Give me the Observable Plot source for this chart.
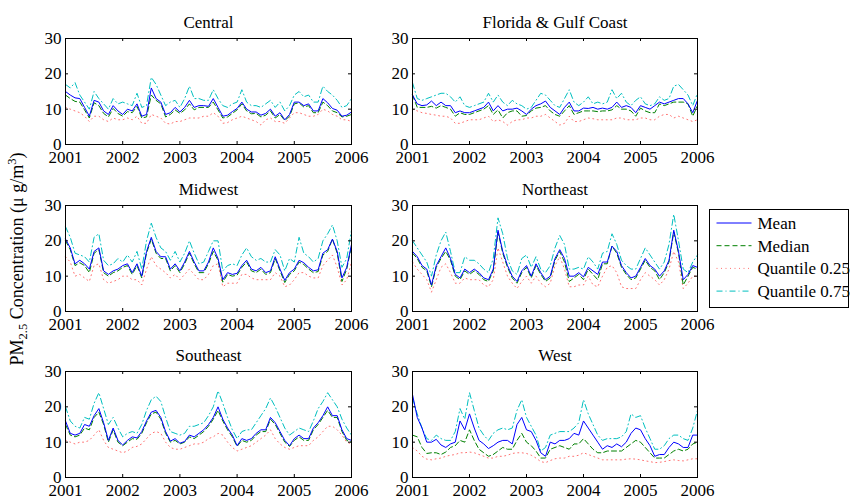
<!DOCTYPE html>
<html>
<head>
<meta charset="utf-8">
<script src="https://cdn.jsdelivr.net/npm/d3@7"></script>
<script src="https://cdn.jsdelivr.net/npm/@observablehq/plot@0.6"></script>
<style>
  body { margin: 0; background: #fff; }
  #chart { position: relative; width: 852px; height: 498px; background: #fff; overflow: hidden; }
  #chart > svg { position: absolute; }
</style>
</head>
<body>
<div id="chart"></div>
<script>
// Monthly PM2.5 summaries by region, Jan 2001 - Jan 2006 (µg/m³)
const months = d3.range(61).map(i => 2001 + i / 12);
const yearTicks = [2001, 2002, 2003, 2004, 2005, 2006];
const concTicks = [0, 10, 20, 30];
const seriesNames = ["Mean", "Median", "Quantile 0.25", "Quantile 0.75"];
const regionNames = ["Central", "Florida & Gulf Coast", "Midwest", "Northeast", "Southeast", "West"];

const centralMean = [15,14,13.2,13,10.5,8,12.5,12,9.5,8.5, 11,9.5,8.5,10,9.5,11.5,8,8.5,16,13, 12,8.5,9,10.5,9.2,10.5,12.5,10.5,11,11, 10.8,13,10.5,8,8.3,9.3,10.2,12,10,9.2, 9.2,8.3,8.8,10,8,9,7,8.5,12,12, 11,11.5,9.5,9.5,13,11.8,10.2,9.7,8,8.3,9.2];
const centralMedian = [14,13,12.2,12,9.8,7.5,11.8,11,8.8,7.8, 10.2,8.8,8,9.3,9,10.8,7.5,7.8,14,12.5, 11.5,7.8,8.5,9.8,8.8,9.8,11.5,9.8,10.5,10.5, 10.5,12,9.8,7.5,7.8,8.8,9.8,11.5,9.5,8.7, 8.8,7.8,8.3,9.5,7.5,8.5,6.8,8,11.5,11.8, 10.6,11,9,9,12,11,9.5,9,7.8,8,8.5];
const centralQ25 = [10.5,10,9.5,9,8,6.5,8,8,7,6.5, 7.5,7,7,7.5,7,8,6,6,8.5,8, 7.5,6,5.8,6.5,6.5,7,7.5,7.5,7.5,8, 8,9,8,6,6.2,7,7.5,8,7.5,7, 6.5,5.5,7,7.5,6.5,6.5,6,7.5,9,9, 8.5,8,8,8.5,10,9.5,8.5,8,7,7,6.5];
const centralQ75 = [17,16,17.5,14,12,10,15,13,11.5,10, 13,11.5,12,11.5,11,14.5,10.5,11,19,17, 14,11,12,12.5,10.5,13,16.5,13,13,12.5, 12.5,15.5,13,11,10.5,11.5,12,15.5,12,11, 11,10.5,11.5,12.5,10.5,12,9.5,11,14,15, 13.5,14,12,12,16.5,15,14,12.5,10.5,11,13];

const floridaMean = [14,11.5,11,11.2,12.3,11,12,11,11,9, 9.5,9,9,9.5,10,10.5,12,9.5,11,9.5, 10,10,10.3,9.5,8.5,10,11,11.5,12.3,10.5, 9.5,8.5,10.5,12,9.5,9.5,10.3,10.2,10.5,10, 10.3,10,10.5,12,10.5,11,10.5,9,11,10.5, 10,11,12,11.5,12,12.5,13,13,11.5,9,12.5];
const floridaMedian = [14,10.5,10.5,10.5,10.8,10.3,11,10.5,10,8, 9,8.5,8.5,9,9.5,10,11,8.5,9.8,7.5, 9,9.5,9.5,8,8.2,9.5,10.3,10.5,11,9.5, 8.5,8,9.5,11,8.5,9,9.5,9.5,9.5,9.3, 9.5,9.5,9.8,11,10,10,9.5,8,10.3,9.5, 9,9,11.5,11,11.5,12,12,12,11.5,8,11];
const floridaQ25 = [10,9.5,9,8.8,8.5,8.3,8,8,7.5,6, 6,6.5,7,7,7,7.5,8,6.5,7,6.5, 5.5,6.5,7,7,7.5,7.5,8,8,8.5,7.5, 6.5,5.5,6,8,6.5,6.5,7,7.5,7.3,7, 7,7,7,7.5,7.5,7,7,7,7.5,7.5, 7,7,8,8.5,8.5,7.5,8,7.5,7,6.5,7];
const floridaQ75 = [17.5,13,12.5,13,13.5,14,14.5,14.5,13.5,12, 13.5,11,10.5,11,11.5,12,14.5,12,14,12, 11,12.5,11.5,11,10,10.5,12.5,14.5,14,12.5, 11,10.5,13,15.5,12,11,12,13.5,11.5,12, 11.5,12,15.5,13,14.5,12,11,12.5,13.5,11.5, 11,11.5,13.5,12.5,13,16.5,17,15.5,14,11,14.5];

const midwestMean = [20.5,18,13.5,14.5,13.5,12,17,18,11.5,10.5, 11.5,12,13,13.5,11,13.5,10,17,21,17, 15.5,15.5,12,13.5,11.5,14,17,14,11.5,11.5, 14,18,15,9,11,10.5,10.8,13,14.5,12, 11.5,12.5,11,11.5,15.5,12,8.8,11,12,14.5, 13.8,12.5,11.5,11.8,16.5,17.5,20.5,17,9.5,12.5,19];
const midwestMedian = [20,17.5,13,13.8,13,11,16.5,17.5,11,10, 11,11.5,12.5,13,10.5,13,9.5,16.5,20.5,16.5, 15,15,11.5,13,11,13.5,16.5,13.5,11,11, 13.5,17,14.5,8.3,10.5,10,10.3,12.5,14,11.5, 11,12,10.5,11,15,11.5,8.2,10.5,11.5,14, 13.3,12,11,11.3,16,17,20.5,16.5,8.5,12,18.5];
const midwestQ25 = [15.5,14,10,10.5,9.5,8.5,13,13.5,9,8, 8.5,9,10,10,9,9,7.5,12,15.5,13, 12,11,9.5,10.5,9,10.5,12,10.5,9,9, 10.5,13,13.5,7,8,8,8,10.5,10.5,9.5, 9,9,9,9,11,10,7,7.5,9,11, 11,10,9.5,9.5,13,14.5,16,12.5,7.5,9,14];
const midwestQ75 = [24,21,16.5,16,15.5,14,21,22,14.5,13, 13.5,15,14,16,14,17,12,20,25,21, 18,17,14.5,17,14,16.5,20,16.5,13.5,14, 17,20,20,11.5,13,13.5,13,16,18,15.5, 14.5,15,14,14,17.5,16,11.5,15,14,21, 16.5,15.5,14,15,20,22,24.5,20,12.5,15,23];

const northeastMean = [17,15.5,13,12,7.5,13,15.5,18,15,10.5, 9.5,12,11,12,11,9.5,9,12,23,17, 13,10,8.5,11.5,13,10,13.5,11,9,10, 15,17.5,15,10,10,11,9.8,12.5,11.5,10.5, 14,14,18.5,17,13,11,9.5,10,12.5,15, 13,12,10,11.5,14.5,23,17,9,10.5,13,12.5];
const northeastMedian = [16.5,15,12.5,11.5,7,12.5,15,17,14.5,10, 9,11.5,10.5,11.5,10.5,9,8.5,11.5,22.5,16.5, 12.5,9.5,8,11,12.5,9.5,13,10.5,8.5,9.5, 14.5,17,14,8.5,9.5,10.5,9,12,10.5,9, 13.5,13.5,18.5,16.5,12.5,10.5,9,9.5,12,14.5, 12.5,11.5,9,11,14,22.5,16.5,7.5,10,12.5,12];
const northeastQ25 = [14,12,10.5,9,5.5,9,12.5,13.5,11,8, 8,9.5,9,9,9,7.5,7,9,18,14, 10,8,6.5,8.5,10,8,10,8,7,8, 13,15.5,12,7,7,7.5,7.5,10,7.5,7, 10,12.5,13,11,7,6.5,6.5,6.5,9,11, 10,9,7.5,9,12,17,14,6.5,8,10,10];
const northeastQ75 = [20,18,16,14,10,16,20,22.5,17,11, 11,15.5,14.5,14.5,13.5,12,11,15,26.5,22, 15,11.5,10.5,15,16,12.5,15.5,12,11,13, 18,21.5,19,12,12,12.5,12,15.5,14,12, 16.5,17,22,19,14.5,13,12,12,15,18, 16,14,12,14,19,27.5,20,12,11,14,16];

const southeastMean = [16,12.5,12,12.5,15,14.5,17.5,19.5,15.5,10.5, 14,10.5,9.2,10.5,11.5,11.2,13,16,18.5,19, 17,13,10.3,11,9.7,10.2,12,11.5,12.5,13.5, 15,17,20,16.5,14,12,9,11,10.5,11, 12.5,13.5,13.5,17,15.5,13,10.5,9,11,12, 11,11,14,15.5,17.5,20,17.5,17.5,13.5,11,10.5];
const southeastMedian = [15,12,11.5,12,14,13.5,17,18.5,15,10, 13.5,10,9,10,11,10.8,12.5,15.5,18,18.5, 16.5,12.5,10,10.5,9.5,10,11.5,11,12,13, 14.5,16.5,19,16,13.5,11.5,8.8,10.5,10,10.5, 12,13,13,16.5,15,12.5,10,8.8,10.5,11.5, 10.5,10.5,13.5,15,17,19,17,17,13,10.5,10];
const southeastQ25 = [10.5,10,9.5,10,10,10.5,12,13.5,10.5,8.5, 8,7.5,7,7.5,8.5,8.8,9.5,11,12.5,13, 12.5,10,8.5,8,8,8.5,9,9.5,9.5,10, 11,11.5,12.5,12,10,8.5,7.5,8,8.5,9, 10,11,12,13.5,11,9.5,8.5,8,8.5,9, 9,9,10.5,11.5,13,14.5,14.5,13.5,12,10,9.5];
const southeastQ75 = [20,16,14.5,14,17,16.5,21,24,19.5,15, 17,14,11.5,12.5,13,12.5,15,19,22,23, 21.5,17,13,12.5,12,12.5,14.5,14.5,15,15.5, 17.5,20,24.5,21,17,13.5,11,13,13.5,13.5, 15.5,17.5,19.5,22.5,20,17,14,12,13,14, 13.5,13,16,19.5,21.5,24,22,20,16.5,14,12];

const westMean = [23.5,17,14,10,10,10.8,9.2,8.5,9.5,10, 16,13.5,18,14,10.5,9.5,8.2,9,10,10.5, 10.5,9.5,15,17,13.5,13,10.5,7,6,10, 9.5,10.5,10.5,11,12.5,12,16,14,12,10, 8,9,8.5,9.5,8.7,10,12.5,14,13.5,11, 9,6,6.5,6.5,8.5,10,9.5,8.5,8.5,12,12];
const westMedian = [12,11.5,8.5,6.8,7,7,6.5,7.2,8.5,9, 10.5,10,13.5,10.5,8,7,6,6.5,7.5,8.5, 8,8,10.5,12.5,10,9,7.5,5.5,5.5,8, 8.5,9,8.5,8,9.5,9.5,11,9.5,8,7, 7,7.5,7.5,7.5,7.5,8.5,9.5,10.5,10,8.5, 7,5.5,5.5,5.5,6.5,7.5,8,7.5,8,9.5,10];
const westQ25 = [8.5,7.5,6,5.2,5,5.3,5.5,6,6.3,6.5, 7,7,7.2,7,6.5,6,5.5,5.5,6,6, 6.3,6.8,7,7,6.8,6.3,5.5,4.5,4.2,4.8, 5.3,5.5,5.5,6,6,6.3,7,6.5,6,5.5, 5,5,5,5,5,5.2,5.3,5.2,5,4.7, 4.5,4.2,4.3,4.5,4.8,5,4.8,4.7,5,5.3,5.3];
const westQ75 = [22.5,18,14,11,10.5,12,11,10.5,10.5,13, 19.5,16.5,24,19,14,12,10.5,12.5,13.5,14, 13.5,14,19,22,17,14.5,12,7.5,8.5,12, 12.5,13,13,13,14,15.5,22,18,15,12, 10.5,11,11,11,11.5,13,18,17,17.5,14, 11,8,8,9,11,12,12,11,10.5,14,19];

const FONT = '"Liberation Serif", "Times New Roman", Times, serif';

// line appearance for each summary statistic
const lineStyle = {
  "Mean":          {stroke: "#0000ff", strokeWidth: 1,   strokeDasharray: null,      opacity: 1},
  "Median":        {stroke: "#008000", strokeWidth: 1,   strokeDasharray: "5,3",     opacity: 1},
  "Quantile 0.25": {stroke: "#ff0000", strokeWidth: 0.8, strokeDasharray: "1,3.5",   opacity: 0.7},
  "Quantile 0.75": {stroke: "#00bfbf", strokeWidth: 1,   strokeDasharray: "6,3,1,3", opacity: 1}
};

const panels = [
  {title: regionNames[0], values: [centralMean, centralMedian, centralQ25, centralQ75], col: 0, row: 0},
  {title: regionNames[1], values: [floridaMean, floridaMedian, floridaQ25, floridaQ75], col: 1, row: 0},
  {title: regionNames[2], values: [midwestMean, midwestMedian, midwestQ25, midwestQ75], col: 0, row: 1},
  {title: regionNames[3], values: [northeastMean, northeastMedian, northeastQ25, northeastQ75], col: 1, row: 1},
  {title: regionNames[4], values: [southeastMean, southeastMedian, southeastQ25, southeastQ75], col: 0, row: 2},
  {title: regionNames[5], values: [westMean, westMedian, westQ25, westQ75], col: 1, row: 2}
];

// grid geometry (plot frame positions)
const frameLeft = [65, 412];
const frameWidth = [286, 285];
const frameTop = [38, 204.5, 370.5];
const frameH = 106;
const mL = 40, mR = 22, mT = 30, mB = 26;
const TICK = 3;

const chart = document.getElementById("chart");

function regionPanel(p) {
  const fw = frameWidth[p.col];
  // draw upper quantile first, mean last so it sits on top
  const order = [3, 2, 1, 0];
  const lines = order.map(k => {
    const s = lineStyle[seriesNames[k]];
    return Plot.lineY(p.values[k], {
      x: months,
      y: d => d,
      stroke: s.stroke,
      strokeWidth: s.strokeWidth,
      strokeOpacity: s.opacity,
      strokeDasharray: s.strokeDasharray || undefined,
      strokeLinejoin: "round"
    });
  });
  return Plot.plot({
    width: mL + fw + mR,
    height: mT + frameH + mB,
    marginLeft: mL, marginRight: mR, marginTop: mT, marginBottom: mB,
    style: {fontFamily: FONT, fontSize: "17px", color: "#000", background: "transparent", overflow: "visible"},
    x: {domain: [2001, 2006], label: null},
    y: {domain: [0, 30], label: null},
    marks: [
      ...lines,
      Plot.frame({stroke: "#000", strokeWidth: 1}),
      // inward-pointing ticks on all four sides
      Plot.tickX(yearTicks, {x: d => d, insetTop: frameH - TICK, stroke: "#000"}),
      Plot.tickX(yearTicks, {x: d => d, insetBottom: frameH - TICK, stroke: "#000"}),
      Plot.tickY(concTicks, {y: d => d, insetRight: fw - TICK, stroke: "#000"}),
      Plot.tickY(concTicks, {y: d => d, insetLeft: fw - TICK, stroke: "#000"}),
      Plot.axisX({ticks: yearTicks, tickSize: 0, tickPadding: 6, tickFormat: d => String(d), label: null, fontSize: 17}),
      Plot.axisY({ticks: concTicks, tickSize: 0, tickPadding: 4, label: null, fontSize: 17}),
      Plot.text([p.title], {frameAnchor: "top", dy: -11, lineAnchor: "bottom", fontSize: 17, fill: "#000"})
    ]
  });
}

for (const p of panels) {
  const svg = regionPanel(p);
  svg.style.left = (frameLeft[p.col] - mL) + "px";
  svg.style.top = (frameTop[p.row] - mT) + "px";
  chart.appendChild(svg);
}

// shared y label and legend
const overlay = d3.create("svg")
  .attr("width", 852).attr("height", 498)
  .style("left", "0px").style("top", "0px")
  .style("font-family", FONT);

const ylab = overlay.append("text")
  .attr("transform", "translate(23,259) rotate(-90)")
  .attr("text-anchor", "middle")
  .style("font-size", "18px")
  .attr("fill", "#000");
ylab.append("tspan").text("PM");
ylab.append("tspan").attr("dy", 4).style("font-size", "12.5px").text("2.5");
ylab.append("tspan").attr("dy", -4).text(" Concentration (\u03bc g/m");
ylab.append("tspan").attr("dy", -7).style("font-size", "12.5px").text("3");
ylab.append("tspan").attr("dy", 7).text(")");

const legX = 709.5, legY = 209.5, legW = 139, legH = 98, rowGap = 22.7;
overlay.append("rect")
  .attr("x", legX).attr("y", legY).attr("width", legW).attr("height", legH)
  .attr("fill", "#fff").attr("stroke", "#000").attr("stroke-width", 1);
seriesNames.forEach((name, i) => {
  const s = lineStyle[name];
  const y = legY + 13.5 + i * rowGap;
  overlay.append("line")
    .attr("x1", legX + 7).attr("x2", legX + 42).attr("y1", y).attr("y2", y)
    .attr("stroke", s.stroke).attr("stroke-width", s.strokeWidth)
    .attr("stroke-opacity", s.opacity)
    .attr("stroke-dasharray", s.strokeDasharray);
  overlay.append("text")
    .attr("x", legX + 48).attr("y", y).attr("dy", "0.35em")
    .style("font-size", "17px").attr("fill", "#000")
    .text(name);
});

chart.appendChild(overlay.node());
</script>
</body>
</html>
